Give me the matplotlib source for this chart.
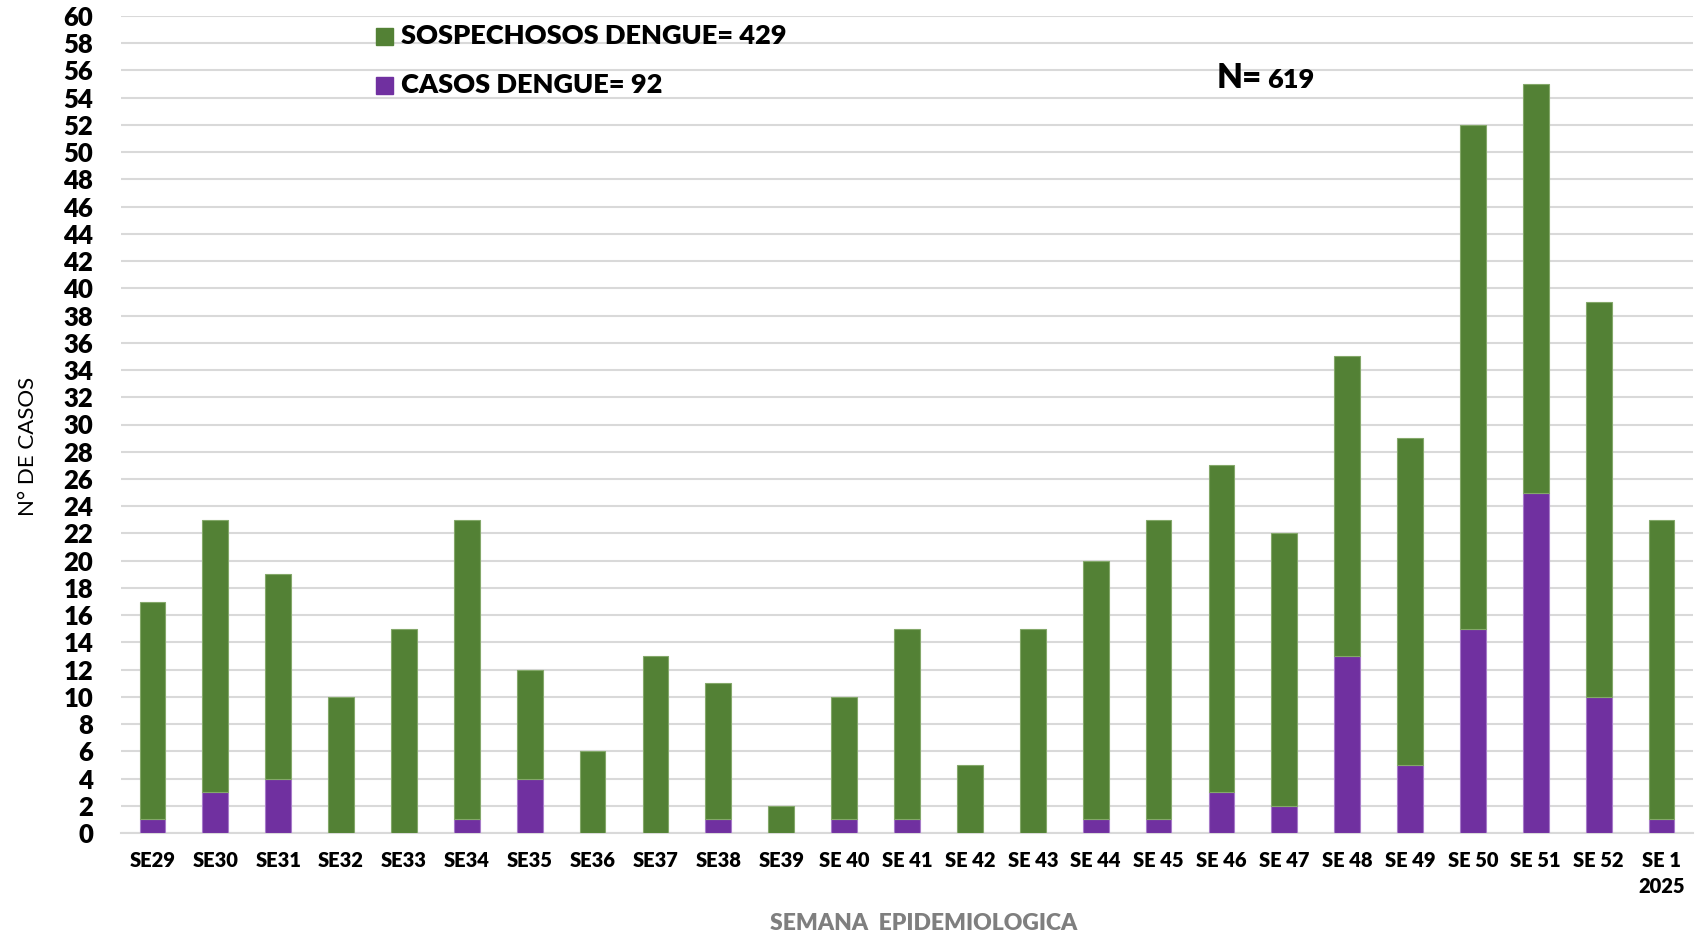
import matplotlib.pyplot as plt
import numpy as np

plt.rcParams['font.family'] = ['Lato', 'DejaVu Sans']

semanas = ['SE29', 'SE30', 'SE31', 'SE32', 'SE33', 'SE34', 'SE35', 'SE36', 'SE37',
           'SE38', 'SE39', 'SE 40', 'SE 41', 'SE 42', 'SE 43', 'SE 44', 'SE 45',
           'SE 46', 'SE 47', 'SE 48', 'SE 49', 'SE 50', 'SE 51', 'SE 52', 'SE 1\n2025']
# casos confirmados (parte morada)
casos = [1, 3, 4, 0, 0, 1, 4, 0, 0, 1, 0, 1, 1, 0, 0, 1, 1, 3, 2, 13, 5, 15, 25, 10, 1]
# sospechosos (parte verde, encima)
sospechosos = [16, 20, 15, 10, 15, 22, 8, 6, 13, 10, 2, 9, 14, 5, 15, 19, 22, 24, 20,
               22, 24, 37, 30, 29, 22]

verde = '#538135'
morado = '#7030A0'
peso = 'heavy'

fig = plt.figure(figsize=(16.99, 9.35), dpi=100)
ax = fig.add_axes([121 / 1699, 1 - 833 / 935, (1693 - 121) / 1699, (833 - 16) / 935])

x = np.arange(len(semanas))
ax.bar(x, casos, width=0.41, color=morado, edgecolor='#A77BC9', linewidth=0.8, zorder=3)
ax.bar(x, sospechosos, width=0.41, bottom=casos, color=verde, edgecolor='#84A86A',
       linewidth=0.8, zorder=3)

ax.set_ylim(0, 60)
ax.set_xlim(-0.5, len(semanas) - 0.5)
ax.set_yticks(range(0, 61, 2))
ax.set_yticklabels([str(v) for v in range(0, 61, 2)], fontsize=18.5, fontweight=peso)
ax.set_xticks(x)
ax.set_xticklabels(semanas, fontsize=14.5, fontweight=peso, linespacing=1.45)
ax.tick_params(axis='both', length=0)
ax.tick_params(axis='y', pad=20)
ax.tick_params(axis='x', pad=13)
ax.grid(False)
ax.yaxis.grid(True, color='#D9D9D9', linewidth=1.5, zorder=0)
ax.set_axisbelow(True)
for s in ax.spines.values():
    s.set_visible(False)
ax.plot([-0.5, len(semanas) - 0.5], [0, 0], color='#D9D9D9', linewidth=1.5, zorder=1,
        clip_on=False)

# leyenda manual
fig.patches.append(plt.Rectangle((376 / 1699, 1 - 45 / 935), 17 / 1699, 17 / 935,
                                 transform=fig.transFigure, color=verde))
fig.patches.append(plt.Rectangle((376 / 1699, 1 - 94 / 935), 17 / 1699, 17 / 935,
                                 transform=fig.transFigure, color=morado))
fig.text(401 / 1699, 1 - 36 / 935, 'SOSPECHOSOS DENGUE= 429', fontsize=19.5,
         fontweight=peso, va='center')
fig.text(401 / 1699, 1 - 85 / 935, 'CASOS DENGUE= 92', fontsize=19.5,
         fontweight=peso, va='center')

fig.text(1217 / 1699, 1 - 78 / 935, 'N=', fontsize=24, fontweight=peso, va='center')
fig.text(1267 / 1699, 1 - 80 / 935, '619', fontsize=19.5, fontweight=peso, va='center')

fig.text(28 / 1699, 1 - 446 / 935, 'N° DE CASOS', fontsize=16, rotation=90,
         ha='center', va='center')
fig.text(924 / 1699, 1 - 924 / 935, 'SEMANA  EPIDEMIOLOGICA', fontsize=16.5,
         fontweight=peso, color='#7F7F7F', ha='center', va='center')

fig.savefig('out.png', dpi=100)
